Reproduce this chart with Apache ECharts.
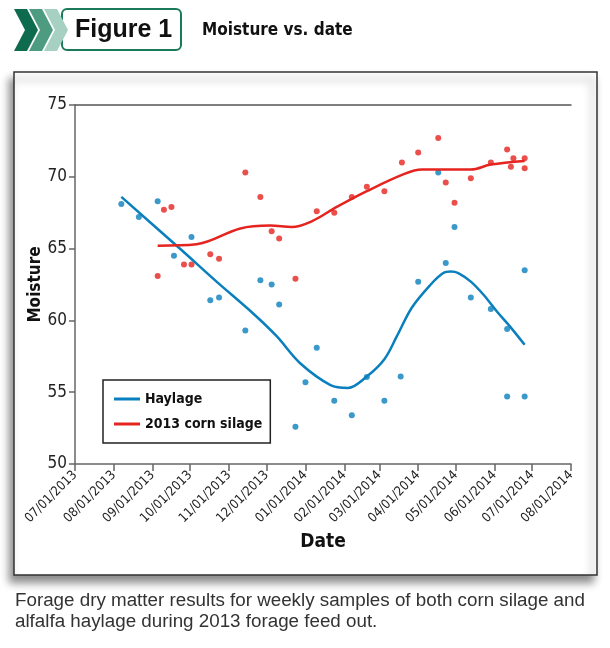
<!DOCTYPE html>
<html>
<head>
<meta charset="utf-8">
<style>
html, body { margin: 0; padding: 0; background: #fff; }
#chart { width: 610px; height: 648px; }
</style>
<script src="https://cdn.jsdelivr.net/npm/echarts@6.0.0/dist/echarts.min.js"></script>
</head>
<body>
<div id="chart"></div>
<script>
// month ticks on the date axis
const monthTicks = ['2013-07-01', '2013-08-01', '2013-09-01', '2013-10-01', '2013-11-01', '2013-12-01',
  '2014-01-01', '2014-02-01', '2014-03-01', '2014-04-01', '2014-05-01', '2014-06-01', '2014-07-01', '2014-08-01']
const moistureTicks = [50, 55, 60, 65, 70, 75]

// weekly samples (date, moisture %)
const haylageSamples = [
  ['2013-08-07', 68.1], ['2013-08-21', 67.2], ['2013-09-05', 68.3], ['2013-09-18', 64.5],
  ['2013-10-02', 65.8], ['2013-10-17', 61.4], ['2013-10-24', 61.6], ['2013-11-14', 59.3],
  ['2013-11-26', 62.8], ['2013-12-05', 62.5], ['2013-12-11', 61.1], ['2013-12-24', 52.6],
  ['2014-01-01', 55.7], ['2014-01-10', 58.1], ['2014-01-24', 54.4], ['2014-02-07', 53.4],
  ['2014-02-19', 56.05], ['2014-03-05', 54.4], ['2014-03-18', 56.1], ['2014-04-01', 62.7],
  ['2014-04-17', 70.3], ['2014-04-23', 64.0], ['2014-04-30', 66.5], ['2014-05-13', 61.6],
  ['2014-05-29', 60.8], ['2014-06-11', 59.4], ['2014-06-11', 54.7], ['2014-06-25', 63.5],
  ['2014-06-25', 54.7]
]
const cornSamples = [
  ['2013-09-05', 63.1], ['2013-09-10', 67.7], ['2013-09-16', 67.9], ['2013-09-26', 63.9],
  ['2013-10-02', 63.9], ['2013-10-17', 64.6], ['2013-10-24', 64.3], ['2013-11-14', 70.3],
  ['2013-11-26', 68.6], ['2013-12-05', 66.2], ['2013-12-11', 65.7], ['2013-12-24', 62.9],
  ['2014-01-10', 67.6], ['2014-01-24', 67.5], ['2014-02-07', 68.6], ['2014-02-19', 69.3],
  ['2014-03-05', 69.0], ['2014-03-19', 71.0], ['2014-04-01', 71.7], ['2014-04-17', 72.7],
  ['2014-04-23', 69.6], ['2014-04-30', 68.2], ['2014-05-13', 69.9], ['2014-05-29', 71.0],
  ['2014-06-11', 71.9], ['2014-06-14', 70.7], ['2014-06-16', 71.3], ['2014-06-25', 71.3],
  ['2014-06-25', 70.6]
]

// smoothed trend lines
const haylageTrend = [
  ['2013-08-07', 68.6], ['2013-09-24', 64.9], ['2013-10-22', 62.7], ['2013-11-20', 60.5],
  ['2013-12-09', 58.9], ['2013-12-28', 57.0], ['2014-01-21', 55.5], ['2014-02-04', 55.3],
  ['2014-02-19', 56.1], ['2014-03-05', 57.3], ['2014-03-15', 58.9], ['2014-03-27', 60.9],
  ['2014-04-11', 62.5], ['2014-04-21', 63.3], ['2014-04-27', 63.4], ['2014-05-03', 63.3],
  ['2014-05-13', 62.7], ['2014-05-23', 61.8], ['2014-06-03', 60.6], ['2014-06-14', 59.5],
  ['2014-06-25', 58.3]
]
const cornTrend = [
  ['2013-09-05', 65.2], ['2013-10-06', 65.3], ['2013-11-10', 66.4], ['2013-12-04', 66.6],
  ['2013-12-21', 66.5], ['2014-01-06', 66.9], ['2014-01-26', 67.9], ['2014-02-19', 69.0],
  ['2014-03-21', 70.2], ['2014-04-04', 70.5], ['2014-05-13', 70.5], ['2014-05-29', 70.85],
  ['2014-06-25', 71.1]
]

const BLUE = '#0a7fbd'
const RED = '#e5231f'
const NARROW = "'Liberation Sans Narrow', 'DejaVu Sans Condensed', sans-serif"

// dates -> timestamps for a plain value axis
const ts = d => echarts.time.parse(d).getTime()
const toXY = arr => arr.map(p => [ts(p[0]), p[1]])
const tickValues = monthTicks.map(ts)
const pad2 = n => (n < 10 ? '0' : '') + n
const fmtDate = v => {
  const d = new Date(v)
  return pad2(d.getMonth() + 1) + '/' + pad2(d.getDate()) + '/' + d.getFullYear()
}

const chart = echarts.init(document.getElementById('chart'))

chart.setOption({
  backgroundColor: '#fff',
  animation: false,
  graphic: [
    // panel frame with shadow
    {
      type: 'rect', z: -10,
      shape: { x: 14, y: 72, width: 583, height: 503 },
      style: { fill: '#fff', stroke: '#333', lineWidth: 1.5, shadowBlur: 8, shadowOffsetX: -4, shadowOffsetY: 7, shadowColor: 'rgba(0,0,0,0.45)' }
    },
    // figure badge
    {
      type: 'rect',
      shape: { x: 62, y: 9, width: 119, height: 41, r: 5 },
      style: { fill: '#fff', stroke: '#1b7a5c', lineWidth: 2 }
    },
    { type: 'polygon', shape: { points: [[44, 9], [57, 9], [68, 30], [57, 51], [44, 51], [55, 30]] }, style: { fill: '#a6d0c1' } },
    { type: 'polygon', shape: { points: [[29, 9], [42, 9], [53, 30], [42, 51], [29, 51], [40, 30]] }, style: { fill: '#4d9b81' } },
    { type: 'polygon', shape: { points: [[14, 9], [27, 9], [38, 30], [27, 51], [14, 51], [25, 30]] }, style: { fill: '#0f6b4e' } },
    {
      type: 'text', x: 75, y: 30,
      style: { text: 'Figure 1', fill: '#111', font: "bold 25px 'Liberation Sans', Arial, sans-serif", verticalAlign: 'middle' }
    },
    {
      type: 'text', x: 202, y: 31,
      style: { text: 'Moisture vs. date', fill: '#111', font: 'bold 17px ' + NARROW, verticalAlign: 'middle' }
    },
    {
      type: 'text', x: 15, y: 590,
      style: {
        text: 'Forage dry matter results for weekly samples of both corn silage and\nalfalfa haylage during 2013 forage feed out.',
        fill: '#333', font: "18.8px 'Liberation Sans', Arial, sans-serif", lineHeight: 21
      }
    }
  ],
  grid: { left: 75, right: 39, top: 105, bottom: 184 },
  legend: {
    orient: 'vertical',
    left: 103,
    top: 380,
    data: ['Haylage', '2013 corn silage'],
    icon: 'rect',
    itemWidth: 26,
    itemHeight: 3,
    itemGap: 11,
    padding: [12, 8, 12, 11],
    borderColor: '#222',
    borderWidth: 1.5,
    backgroundColor: '#fff',
    textStyle: { fontFamily: NARROW, fontWeight: 'bold', fontSize: 14, color: '#111' }
  },
  xAxis: [{
    type: 'value',
    min: tickValues[0],
    max: tickValues[tickValues.length - 1],
    name: 'Date',
    nameLocation: 'middle',
    nameGap: 64,
    nameTextStyle: { fontFamily: NARROW, fontWeight: 'bold', fontSize: 19, color: '#111' },
    axisLine: { lineStyle: { color: '#666', width: 1.5 } },
    axisTick: { length: 7, lineStyle: { color: '#666', width: 1.5 }, customValues: tickValues },
    axisLabel: {
      customValues: tickValues,
      rotate: 45,
      margin: 9,
      fontFamily: NARROW,
      fontSize: 13,
      color: '#222',
      formatter: fmtDate
    },
    splitLine: { show: false }
  }, {
    type: 'value',
    position: 'top',
    min: tickValues[0],
    max: tickValues[tickValues.length - 1],
    axisLine: { lineStyle: { color: '#555', width: 1.5 } },
    axisTick: { show: false },
    axisLabel: { show: false },
    splitLine: { show: false }
  }],
  yAxis: {
    type: 'value',
    min: moistureTicks[0],
    max: moistureTicks[moistureTicks.length - 1],
    interval: 5,
    name: 'Moisture',
    nameLocation: 'middle',
    nameGap: 31,
    nameMoveOverlap: false,
    nameTextStyle: { fontFamily: NARROW, fontWeight: 'bold', fontSize: 17, color: '#111' },
    axisLine: { show: true, lineStyle: { color: '#666', width: 1.5 } },
    axisTick: { show: true, length: 6, lineStyle: { color: '#666', width: 1.5 } },
    axisLabel: { margin: 8, fontFamily: NARROW, fontSize: 17, color: '#222' },
    splitLine: { show: false }
  },
  series: [
    {
      name: 'Haylage samples', type: 'scatter', data: toXY(haylageSamples),
      symbolSize: 6, itemStyle: { color: BLUE }
    },
    {
      name: 'Corn samples', type: 'scatter', data: toXY(cornSamples),
      symbolSize: 6, itemStyle: { color: RED }
    },
    {
      name: 'Haylage', type: 'line', data: toXY(haylageTrend), smooth: 0.35,
      showSymbol: false, lineStyle: { color: BLUE, width: 2.5 }, itemStyle: { color: BLUE }
    },
    {
      name: '2013 corn silage', type: 'line', data: toXY(cornTrend), smooth: 0.35,
      showSymbol: false, lineStyle: { color: RED, width: 2.5 }, itemStyle: { color: RED }
    }
  ]
})
</script>
</body>
</html>
